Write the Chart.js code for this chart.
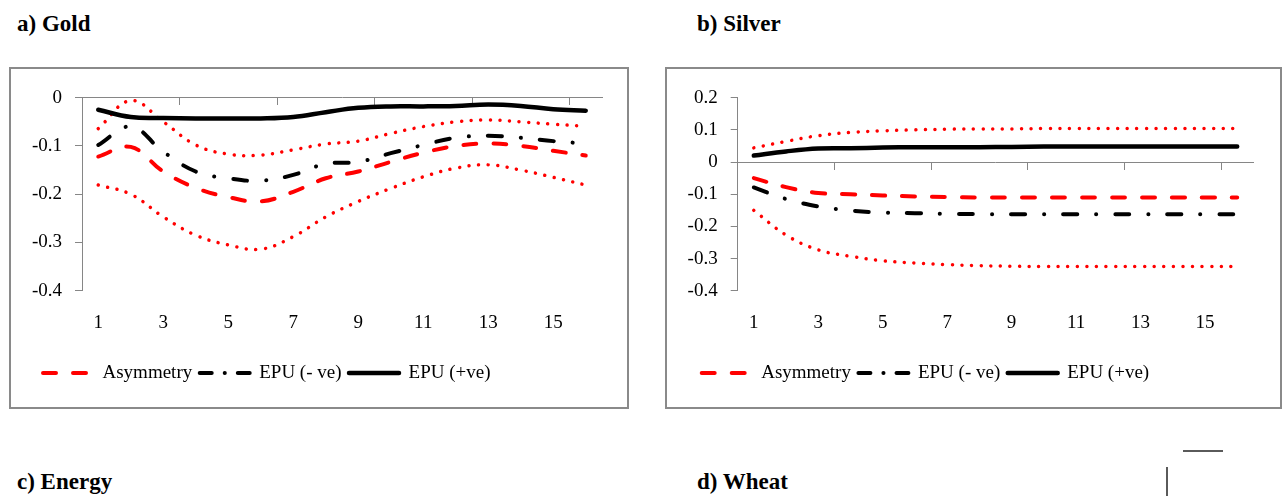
<!DOCTYPE html>
<html><head><meta charset="utf-8">
<script src="https://cdn.jsdelivr.net/npm/chart.js@4.4.1/dist/chart.umd.min.js"></script>
<style>
body{margin:0;background:#fff;width:1284px;height:496px;overflow:hidden;position:relative;font-family:'Liberation Serif','Times New Roman',serif;}
.title{position:absolute;font-weight:bold;font-size:23px;line-height:23px;white-space:nowrap;color:#000;}
.panel{position:absolute;border:2px solid #8a8a8a;box-sizing:border-box;background:#fff;}
.panel canvas{position:absolute;left:0;top:0;}
.ln{position:absolute;background:#5a5a5a;}
</style></head><body>
<div class="title" style="left:17px;top:12px;">a) Gold</div>
<div class="title" style="left:697px;top:12px;">b) Silver</div>
<div class="title" style="left:17px;top:470px;">c) Energy</div>
<div class="title" style="left:697px;top:470px;">d) Wheat</div>
<div class="panel" style="left:9px;top:67px;width:620px;height:342px;"><canvas id="gold" width="616" height="338"></canvas></div>
<div class="panel" style="left:665px;top:67px;width:617px;height:342px;"><canvas id="silver" width="613" height="338"></canvas></div>
<div class="ln" style="left:1183px;top:450px;width:40px;height:2px;"></div>
<div class="ln" style="left:1166px;top:467px;width:2px;height:29px;"></div>
<script>
const categories = ['1','2','3','4','5','6','7','8','9','10','11','12','13','14','15','16'];
const legendNames = ['Asymmetry','EPU (- ve)','EPU (+ve)'];

// a) Gold
const goldAsym   = [-0.122,-0.102,-0.153,-0.187,-0.206,-0.215,-0.195,-0.167,-0.153,-0.133,-0.114,-0.100,-0.095,-0.100,-0.110,-0.120];
const goldEpuNeg = [-0.098,-0.060,-0.112,-0.153,-0.167,-0.172,-0.160,-0.137,-0.133,-0.115,-0.098,-0.083,-0.079,-0.083,-0.090,-0.095];
const goldEpuPos = [-0.025,-0.040,-0.042,-0.043,-0.043,-0.043,-0.040,-0.030,-0.021,-0.018,-0.018,-0.017,-0.014,-0.017,-0.024,-0.027];
const goldUpper  = [-0.064,-0.006,-0.050,-0.098,-0.117,-0.119,-0.108,-0.096,-0.090,-0.074,-0.060,-0.050,-0.046,-0.050,-0.055,-0.059];
const goldLower  = [-0.181,-0.200,-0.247,-0.285,-0.305,-0.314,-0.288,-0.247,-0.215,-0.188,-0.164,-0.146,-0.139,-0.150,-0.165,-0.181];
const goldYTicks = [0,-0.1,-0.2,-0.3,-0.4];

// b) Silver
const silverAsym   = [-0.050,-0.078,-0.096,-0.100,-0.104,-0.107,-0.109,-0.110,-0.110,-0.110,-0.110,-0.110,-0.110,-0.110,-0.110,-0.110];
const silverEpuNeg = [-0.079,-0.115,-0.138,-0.151,-0.157,-0.159,-0.161,-0.162,-0.162,-0.162,-0.162,-0.162,-0.162,-0.162,-0.162,-0.162];
const silverEpuPos = [0.020,0.033,0.042,0.043,0.045,0.046,0.046,0.046,0.047,0.048,0.048,0.048,0.048,0.048,0.048,0.048];
const silverUpper  = [0.044,0.064,0.082,0.092,0.097,0.100,0.102,0.103,0.103,0.104,0.104,0.104,0.104,0.104,0.104,0.104];
const silverLower  = [-0.150,-0.227,-0.273,-0.293,-0.307,-0.314,-0.319,-0.322,-0.324,-0.325,-0.325,-0.325,-0.325,-0.325,-0.325,-0.325];
const silverYTicks = [0.2,0.1,0,-0.1,-0.2,-0.3,-0.4];

Chart.defaults.color = '#000';
Chart.defaults.font.family = "'Liberation Serif','Times New Roman',serif";
Chart.defaults.font.size = 19;

const AXIS = '#868686';
const FONT = {family:"'Liberation Serif','Times New Roman',serif", size:19};

function ds(label, data, color, width, dash, legendDash) {
  return {label, data, borderColor: color, backgroundColor: color, borderWidth: width,
    borderDash: dash, legendDash: legendDash || dash, borderCapStyle: 'round', borderJoinStyle: 'round',
    pointRadius: 0, pointHoverRadius: 0, tension: 0.4, fill: false, xAxisID: 'x', yAxisID: 'y'};
}

function makeChart(id, s, yTicks, padR, yW, legendShift) {
  const yMax = Math.max(...yTicks), yMin = Math.min(...yTicks);
  return new Chart(document.getElementById(id), {
    type: 'line',
    data: {
      labels: categories,
      datasets: [
        ds(legendNames[0], s.asym, '#ff0000', 4, [13, 17]),
        ds(legendNames[1], s.neg, '#000000', 4, [14, 19, 0.1, 19], [12, 13, 0.1, 13]),
        ds(legendNames[2], s.pos, '#000000', 4.5, []),
        ds('Upper bound', s.up, '#ff0000', 3.5, [0.01, 9.6]),
        ds('Lower bound', s.low, '#ff0000', 3.5, [0.01, 9.6])
      ]
    },
    plugins: [{
      id: 'legendShift',
      afterLayout(chart) {
        const lg = chart.legend;
        if (lg) { lg.left += legendShift; lg.right += legendShift; }
      }
    }],
    options: {
      responsive: false, animation: false, events: [],
      layout: {padding: {left: 0, right: padR, top: 28.7, bottom: 14.5}},
      plugins: {
        tooltip: {enabled: false},
        legend: {
          position: 'bottom', align: 'start',
          labels: {
            usePointStyle: true, pointStyle: 'line', pointStyleWidth: 50,
            padding: 7.5, font: FONT, color: '#000',
            generateLabels: chart => chart.data.datasets.slice(0, 3).map((d, i) => ({
              text: d.label, datasetIndex: i, hidden: false,
              strokeStyle: d.borderColor, fillStyle: d.borderColor, fontColor: '#000',
              lineWidth: d.borderWidth, lineDash: d.legendDash, lineCap: 'round', lineJoin: 'round',
              pointStyle: 'line'
            }))
          }
        }
      },
      scales: {
        x: {
          type: 'category', position: 'bottom', offset: true,
          grid: {display: false, drawTicks: false},
          border: {display: false},
          ticks: {autoSkip: false, maxRotation: 0, minRotation: 0, padding: 21, font: FONT, color: '#000',
            callback: (v, i) => i % 2 === 0 ? categories[i] : ''},
          afterFit: sc => { sc.height = 65.3; }
        },
        x2: {
          type: 'category', position: {y: 0}, offset: true,
          grid: {display: true, offset: true, drawOnChartArea: false, drawTicks: true, tickLength: 7, lineWidth: 1,
            color: c => (c.index !== undefined && c.index % 3 === 0) ? AXIS : 'rgba(0,0,0,0)'},
          border: {display: true, color: AXIS, width: 1},
          ticks: {display: false}
        },
        y: {
          type: 'linear', position: 'left', min: yMin, max: yMax,
          grid: {display: true, drawOnChartArea: false, drawTicks: true, tickLength: 7, color: AXIS},
          border: {display: true, color: AXIS, width: 1},
          afterBuildTicks: sc => { sc.ticks = yTicks.map(v => ({value: v})); },
          ticks: {padding: 13, font: FONT, color: '#000',
            callback: v => { const r = Math.round(v * 10) / 10; return r === 0 ? '0' : String(r); }},
          afterFit: sc => { sc.width = yW; }
        }
      }
    }
  });
}

makeChart('gold', {asym: goldAsym, neg: goldEpuNeg, pos: goldEpuPos, up: goldUpper, low: goldLower}, goldYTicks, 25, 71, 24.5);
makeChart('silver', {asym: silverAsym, neg: silverEpuNeg, pos: silverEpuPos, up: silverUpper, low: silverLower}, silverYTicks, 26.7, 70.7, 27.2);
</script>
</body></html>
